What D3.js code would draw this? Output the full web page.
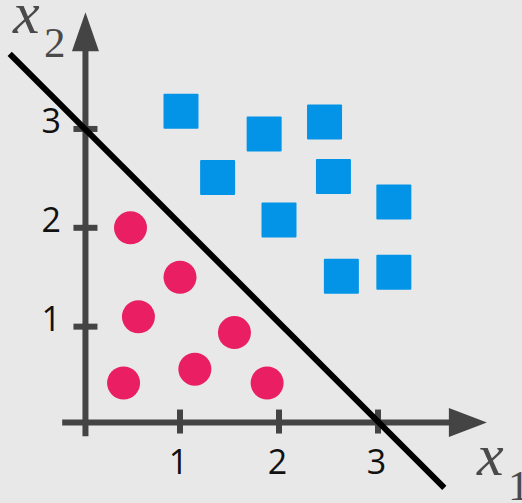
<!DOCTYPE html>
<html><head><meta charset="utf-8">
<script src="https://cdn.jsdelivr.net/npm/d3@7/dist/d3.min.js"></script>
<style>html,body{margin:0;padding:0;background:#e8e8e8;}svg{display:block;}</style>
</head><body>
<script>
// Data
const circlesX1 = [0.50, 1.00, 0.58, 1.55, 0.43, 1.15, 1.88];
const circlesX2 = [2.00, 1.50, 1.10, 0.94, 0.43, 0.57, 0.43];
const squaresX1 = [1.01, 1.85, 2.46, 1.38, 2.55, 3.16, 2.00, 2.63, 3.16];
const squaresX2 = [3.18, 2.95, 3.07, 2.51, 2.52, 2.26, 2.08, 1.51, 1.55];
const xTicks = [1, 2, 3];
const yTicks = [1, 2, 3];
const boundaryX1 = [-0.72, 3.67];
const boundaryX2 = [3.76, -0.63];
const axisCross = [0.045, 0.03];
const axisXRange = [-0.19, 4.1];
const axisYRange = [-0.11, 4.18];

const W = 522, H = 503;
const x = d3.scaleLinear().domain([0, 1]).range([81, 180]);
const y = d3.scaleLinear().domain([0, 1]).range([425.5, 326.65]);

const svg = d3.select("body").append("svg").attr("width", W).attr("height", H);
svg.append("rect").attr("width", W).attr("height", H).attr("fill", "#e8e8e8");

const axisCol = "#444444";
const ax0 = x(axisCross[0]), ay0 = y(axisCross[1]);

// x axis
svg.append("line").attr("x1", x(axisXRange[0])).attr("x2", x(axisXRange[1]) - 30)
  .attr("y1", ay0).attr("y2", ay0).attr("stroke", axisCol).attr("stroke-width", 6);
const xt = x(axisXRange[1]);
svg.append("path").attr("d", `M${xt},${ay0} L${xt-38},${ay0-14.5} L${xt-38},${ay0+14.5} Z`).attr("fill", axisCol);
// y axis
svg.append("line").attr("x1", ax0).attr("x2", ax0)
  .attr("y1", y(axisYRange[0])).attr("y2", y(axisYRange[1]) + 30).attr("stroke", axisCol).attr("stroke-width", 6);
const yt = y(axisYRange[1]);
svg.append("path").attr("d", `M${ax0},${yt} L${ax0-13.5},${yt+39} L${ax0+13.5},${yt+39} Z`).attr("fill", axisCol);

// ticks
svg.selectAll(".xt").data(xTicks).enter().append("line")
  .attr("x1", d => x(d)).attr("x2", d => x(d)).attr("y1", ay0 - 13).attr("y2", ay0 + 11)
  .attr("stroke", axisCol).attr("stroke-width", 6);
svg.selectAll(".yt").data(yTicks).enter().append("line")
  .attr("y1", d => y(d)).attr("y2", d => y(d)).attr("x1", ax0 - 12).attr("x2", ax0 + 12)
  .attr("stroke", axisCol).attr("stroke-width", 6);

const tickFont = "'Open Sans', sans-serif";
svg.selectAll(".xl").data(xTicks).enter().append("text")
  .attr("x", d => x(d) - 1.5).attr("y", 474).attr("text-anchor", "middle")
  .attr("font-family", tickFont).attr("font-size", 34).attr("fill", "#111").text(d => d);
svg.selectAll(".yl").data(yTicks).enter().append("text")
  .attr("x", 61).attr("y", d => y(d) + 4.5).attr("text-anchor", "end")
  .attr("font-family", tickFont).attr("font-size", 34).attr("fill", "#111").text(d => d);

// boundary line
svg.append("line").attr("x1", x(boundaryX1[0])).attr("y1", y(boundaryX2[0]))
  .attr("x2", x(boundaryX1[1])).attr("y2", y(boundaryX2[1]))
  .attr("stroke", "#000").attr("stroke-width", 6);

// circles
const circ = circlesX1.map((v, i) => ({x1: v, x2: circlesX2[i]}));
svg.selectAll(".c").data(circ).enter().append("circle")
  .attr("cx", d => x(d.x1)).attr("cy", d => y(d.x2)).attr("r", 16.5).attr("fill", "#E91E63");
// squares
const sq = squaresX1.map((v, i) => ({x1: v, x2: squaresX2[i]}));
const s = 35;
svg.selectAll(".s").data(sq).enter().append("rect")
  .attr("x", d => x(d.x1) - s/2).attr("y", d => y(d.x2) - s/2).attr("width", s).attr("height", s)
  .attr("rx", 1).attr("fill", "#0394E8");

// axis titles
const serif = "'Liberation Serif', 'Times New Roman', serif";
const labCol = "#4a4a4a";
svg.append("text").attr("x", 13).attr("y", 33).attr("font-family", serif).attr("font-style", "italic")
  .attr("font-size", 60).attr("fill", labCol).text("x");
svg.append("text").attr("x", 44).attr("y", 57).attr("font-family", serif)
  .attr("font-size", 43).attr("fill", labCol).text("2");
svg.append("text").attr("x", 477).attr("y", 475).attr("font-family", serif).attr("font-style", "italic")
  .attr("font-size", 60).attr("fill", labCol).text("x");
svg.append("text").attr("x", 508).attr("y", 500).attr("font-family", serif)
  .attr("font-size", 43).attr("fill", labCol).text("1");
</script>
</body></html>
